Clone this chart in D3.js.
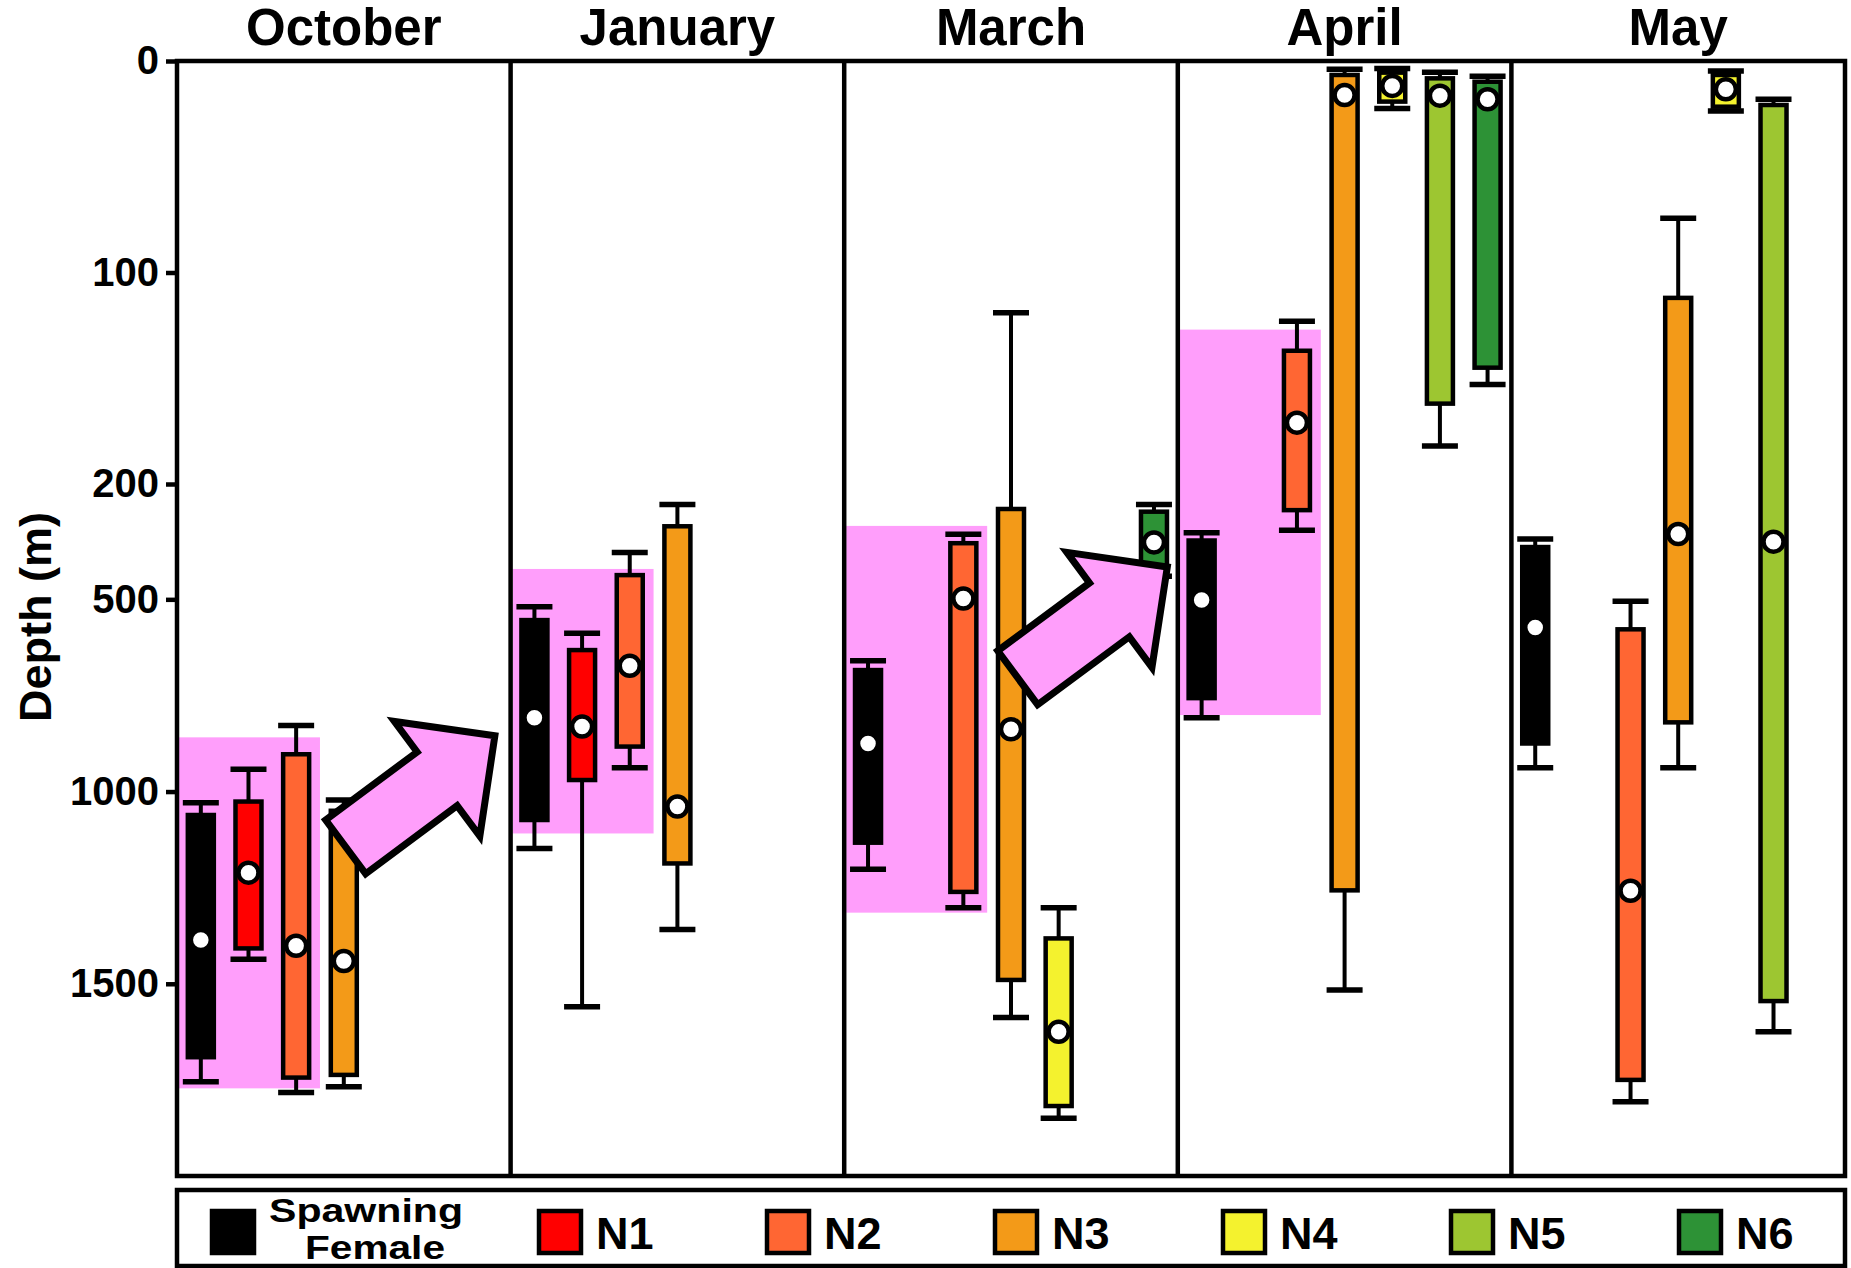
<!DOCTYPE html>
<html>
<head>
<meta charset="utf-8">
<script src="https://cdn.jsdelivr.net/npm/d3@7"></script>
<style>
  html, body { margin: 0; padding: 0; background: #fff; }
  svg { display: block; }
  text { font-family: "Liberation Sans", Arial, Helvetica, sans-serif; font-weight: bold; fill: #000; }
</style>
</head>
<body>
<svg id="chart" width="1851" height="1268"></svg>
<script>
// ---------------- DATA ----------------
const months = ["October", "January", "March", "April", "May"];
const stages = ["Spawning Female", "N1", "N2", "N3", "N4", "N5", "N6"];
const stageColors = ["#000000", "#FF0000", "#FF6633", "#F39A18", "#F4F22E", "#9DC631", "#2D9236"];

// each row: stage, whisker top (shallowest), box top, median, box bottom, whisker bottom (deepest) [m]
const octoberBoxes = [
  ["Spawning Female", 1029, 1061, 1386, 1691, 1755],
  ["N1", 942, 1026, 1211, 1408, 1436],
  ["N2", 828, 903, 1401, 1744, 1783],
  ["N3", 1022, 1050, 1441, 1737, 1768]
];
const januaryBoxes = [
  ["Spawning Female", 519, 554, 808, 1074, 1148],
  ["N1", 588, 632, 831, 970, 1560],
  ["N2", 378, 437, 673, 883, 938],
  ["N3", 253, 310, 1039, 1187, 1359]
];
const marchBoxes = [
  ["Spawning Female", 660, 684, 875, 1133, 1202],
  ["N2", 331, 354, 498, 1261, 1302],
  ["N3", 119, 265, 838, 1490, 1588],
  ["N4", 1302, 1382, 1625, 1818, 1850],
  ["N6", 253, 272, 352, 420, 440]
];
const aprilBoxes = [
  ["Spawning Female", 327, 347, 502, 757, 808],
  ["N2", 123, 137, 171, 268, 320],
  ["N3", 3.9, 6.6, 16.1, 1257, 1516],
  ["N4", 3.5, 5.5, 11.8, 19.2, 22.4],
  ["N5", 5.3, 8.2, 16.4, 162, 182],
  ["N6", 7.2, 9.8, 18.1, 145, 153]
];
const mayBoxes = [
  ["Spawning Female", 343, 364, 573, 875, 938],
  ["N2", 505, 578, 1258, 1750, 1807],
  ["N3", 74.4, 112, 330, 820, 938],
  ["N4", 4.7, 6.6, 13.4, 21.6, 23.6],
  ["N5", 18.1, 20.8, 350, 1545, 1625]
];
const boxesByMonth = [octoberBoxes, januaryBoxes, marchBoxes, aprilBoxes, mayBoxes];

// pink shaded depth ranges (span Spawning Female .. N2)
const shadeMonths = ["October", "January", "March", "April"];
const shadeTop = [859, 421, 309, 127];
const shadeBottom = [1772, 1109, 1315, 801];

// arrows: from (month, slot position, depth) to (same month, slot position, depth)
const arrowMonth = ["October", "March"];
const arrowFromSlot = [3.54, 3.64];
const arrowFromDepth = [1144, 704];
const arrowToSlot = [6.67, 6.78];
const arrowToDepth = [855, 416];

const yTickValues = [0, 100, 200, 500, 1000, 1500];
const depthBreaks = [0, 200, 2000];

// ---------------- LAYOUT ----------------
const svg = d3.select("#chart");
const plotLeft = 177, plotRight = 1845, plotTop = 61, plotBottom = 1176;

const x = d3.scaleBand().domain(months).range([plotLeft, plotRight]).paddingInner(0).paddingOuter(0);
const xs = d3.scaleBand().domain(stages).range([0, x.bandwidth()]);
const slot = d3.scaleLinear().domain([0, stages.length]).range([0, x.bandwidth()]);
const y = d3.scaleLinear().domain(depthBreaks).range([plotTop, 484, plotBottom]);
const color = d3.scaleOrdinal().domain(stages).range(stageColors);

svg.append("rect").attr("width", 1851).attr("height", 1268).attr("fill", "#fff");

// shaded regions
svg.append("g").selectAll("rect")
  .data(shadeMonths.map((m, i) => ({ m, top: shadeTop[i], bottom: shadeBottom[i] })))
  .join("rect")
  .attr("x", d => x(d.m) + 2)
  .attr("width", d => xs("N3") - 2)
  .attr("y", d => y(d.top))
  .attr("height", d => y(d.bottom) - y(d.top))
  .attr("fill", "#FF9EFB");

// boxes
const boxW = 26, capW = 36;
const gBoxes = svg.append("g");
months.forEach((m, mi) => {
  boxesByMonth[mi].forEach(r => {
    const [stage, wTop, bTop, med, bBot, wBot] = r;
    const cx = x(m) + xs(stage) + xs.bandwidth() / 2;
    const g = gBoxes.append("g");
    g.append("line").attr("x1", cx).attr("x2", cx).attr("y1", y(wTop)).attr("y2", y(wBot))
      .attr("stroke", "#000").attr("stroke-width", 4);
    [wTop, wBot].forEach(v => {
      g.append("line").attr("x1", cx - capW / 2).attr("x2", cx + capW / 2)
        .attr("y1", y(v)).attr("y2", y(v)).attr("stroke", "#000").attr("stroke-width", 5.5);
    });
    g.append("rect").attr("x", cx - boxW / 2).attr("width", boxW)
      .attr("y", y(bTop)).attr("height", y(bBot) - y(bTop))
      .attr("fill", color(stage)).attr("stroke", "#000").attr("stroke-width", 4.5);
    g.append("circle").attr("cx", cx).attr("cy", y(med)).attr("r", 10)
      .attr("fill", "#fff").attr("stroke", "#000").attr("stroke-width", 4.5);
  });
});

// frame and dividers
const gFrame = svg.append("g").attr("fill", "none").attr("stroke", "#000").attr("stroke-width", 4.5);
gFrame.append("rect").attr("x", plotLeft).attr("y", plotTop)
  .attr("width", plotRight - plotLeft).attr("height", plotBottom - plotTop);
gFrame.selectAll("line.div").data(months.slice(1)).join("line").attr("class", "div")
  .attr("x1", d => x(d)).attr("x2", d => x(d)).attr("y1", plotTop).attr("y2", plotBottom);

// arrows
const shaftHalf = 33.5, headHalf = 71.5, headLen = 72;
arrowMonth.forEach((m, i) => {
  const x0 = x(m) + slot(arrowFromSlot[i]), y0 = y(arrowFromDepth[i]);
  const x1 = x(m) + slot(arrowToSlot[i]), y1 = y(arrowToDepth[i]);
  const L = Math.hypot(x1 - x0, y1 - y0);
  const ux = (x1 - x0) / L, uy = (y1 - y0) / L;
  const nx = -uy, ny = ux;
  const bx = x1 - ux * headLen, by = y1 - uy * headLen;
  const pts = [
    [x0 + nx * shaftHalf, y0 + ny * shaftHalf],
    [bx + nx * shaftHalf, by + ny * shaftHalf],
    [bx + nx * headHalf, by + ny * headHalf],
    [x1, y1],
    [bx - nx * headHalf, by - ny * headHalf],
    [bx - nx * shaftHalf, by - ny * shaftHalf],
    [x0 - nx * shaftHalf, y0 - ny * shaftHalf]
  ];
  svg.append("path").attr("d", d3.line()(pts) + "Z")
    .attr("fill", "#FF9EFB").attr("stroke", "#000").attr("stroke-width", 7)
    .attr("stroke-linejoin", "miter").attr("stroke-miterlimit", 10);
});

// y axis
const yAxis = d3.axisLeft(y).tickValues(yTickValues).tickSize(11).tickPadding(7).tickFormat(d3.format("d"));
const gAxis = svg.append("g").attr("transform", `translate(${plotLeft},0)`).call(yAxis);
gAxis.select(".domain").remove();
gAxis.selectAll(".tick line").attr("stroke", "#000").attr("stroke-width", 4.5);
gAxis.selectAll(".tick text").attr("font-size", 40).attr("font-weight", "bold")
  .attr("font-family", "'Liberation Sans', Arial, sans-serif").attr("fill", "#000");

svg.append("text").attr("transform", "translate(51,617) rotate(-90)")
  .attr("text-anchor", "middle").attr("font-size", 45).text("Depth (m)");

// month titles
svg.append("g").selectAll("text").data(months).join("text")
  .attr("x", d => x(d) + x.bandwidth() / 2).attr("y", 45)
  .attr("text-anchor", "middle").attr("font-size", 51).text(d => d);

// legend
const legTop = 1190, legBottom = 1266;
svg.append("rect").attr("x", plotLeft).attr("y", legTop).attr("width", plotRight - plotLeft)
  .attr("height", legBottom - legTop).attr("fill", "none").attr("stroke", "#000").attr("stroke-width", 4.5);
const legX = d3.scalePoint().domain(stages.slice(1)).range([539, 1679]);
const swatch = 42;
stages.forEach((s, i) => {
  const sx = i === 0 ? 212 : legX(s);
  svg.append("rect").attr("x", sx).attr("y", 1211).attr("width", swatch).attr("height", swatch)
    .attr("fill", color(s)).attr("stroke", "#000").attr("stroke-width", 4.5);
  if (i === 0) {
    const parts = s.split(" ");
    svg.append("text").attr("x", sx + 57).attr("y", 1222).attr("font-size", 34)
      .attr("textLength", 194).attr("lengthAdjust", "spacingAndGlyphs").text(parts[0]);
    svg.append("text").attr("x", sx + 93).attr("y", 1259).attr("font-size", 34)
      .attr("textLength", 140).attr("lengthAdjust", "spacingAndGlyphs").text(parts[1]);
  } else {
    svg.append("text").attr("x", sx + 57).attr("y", 1249).attr("font-size", 45).text(s);
  }
});
</script>
</body>
</html>
